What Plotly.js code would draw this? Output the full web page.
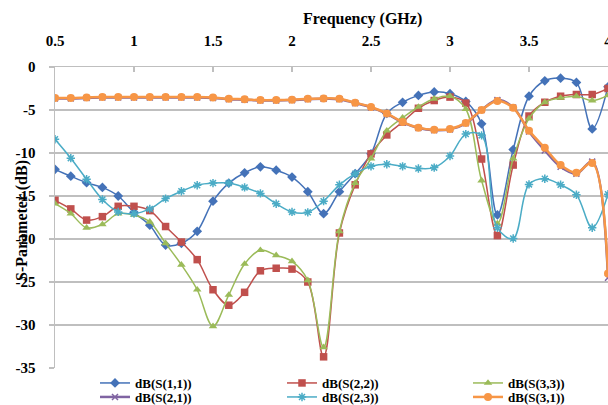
<!DOCTYPE html>
<html>
<head>
<meta charset="utf-8">
<script src="https://cdn.plot.ly/plotly-3.0.1.min.js"></script>
<style>html,body{margin:0;padding:0;background:#fff;}#chart{width:608px;height:405px;}</style>
</head>
<body>
<div id="chart"></div>
<script>
var freq = [0.5,0.6,0.7,0.8,0.9,1.0,1.1,1.2,1.3,1.4,1.5,1.6,1.7,1.8,1.9,2.0,2.1,2.2,2.3,2.4,2.5,2.6,2.7,2.8,2.9,3.0,3.1,3.2,3.3,3.4,3.5,3.6,3.7,3.8,3.9,4.0];
var s11 = [-11.9,-12.7,-13.45,-14.0,-15.0,-16.9,-18.4,-20.7,-20.5,-19.1,-15.6,-13.5,-12.3,-11.6,-12.0,-12.8,-14.5,-17.05,-14.5,-12.4,-10.1,-5.4,-4.1,-3.3,-2.9,-3.1,-4.0,-6.6,-17.2,-9.6,-3.4,-1.6,-1.3,-1.8,-7.2,-2.3];
var s22 = [-15.5,-16.5,-17.8,-17.4,-16.2,-16.2,-16.7,-18.55,-20.35,-22.4,-25.9,-27.7,-26.2,-23.7,-23.4,-23.5,-25.0,-33.7,-19.3,-13.7,-10.1,-7.9,-6.4,-4.8,-3.9,-3.5,-4.2,-10.7,-19.6,-11.4,-5.7,-4.1,-3.4,-3.2,-3.2,-2.5];
var s33 = [-15.9,-17.05,-18.7,-18.3,-17.05,-17.2,-18.0,-20.5,-23.0,-25.9,-30.15,-26.5,-22.9,-21.3,-21.9,-22.6,-24.8,-32.6,-19.1,-13.5,-10.65,-7.4,-5.9,-4.65,-3.7,-3.4,-4.9,-13.2,-18.2,-10.65,-6.0,-4.1,-3.6,-3.4,-3.9,-3.3];
var s21 = [-3.65,-3.65,-3.6,-3.55,-3.55,-3.55,-3.55,-3.55,-3.55,-3.55,-3.6,-3.75,-3.8,-3.9,-3.9,-3.85,-3.75,-3.7,-3.75,-4.2,-4.7,-5.45,-6.45,-7.1,-7.35,-7.25,-6.55,-5.0,-3.85,-4.7,-7.5,-9.7,-11.6,-12.4,-11.0,-24.5];
var s23 = [-8.4,-10.6,-13.05,-15.4,-16.85,-17.05,-16.5,-15.3,-14.45,-13.75,-13.5,-13.5,-14.0,-14.7,-15.9,-16.85,-16.9,-15.6,-13.7,-12.4,-11.55,-11.3,-11.55,-11.8,-11.7,-10.35,-7.8,-7.95,-18.7,-19.95,-13.65,-13.0,-13.7,-14.85,-18.7,-14.8];
var s31 = [-3.6,-3.6,-3.55,-3.5,-3.5,-3.5,-3.5,-3.5,-3.5,-3.5,-3.55,-3.7,-3.75,-3.85,-3.85,-3.8,-3.7,-3.65,-3.7,-4.15,-4.65,-5.4,-6.4,-7.05,-7.3,-7.2,-6.5,-5.0,-3.95,-4.75,-7.4,-9.4,-11.4,-12.3,-11.15,-24.0];
var seriesNames = ['dB(S(1,1))','dB(S(2,2))','dB(S(3,3))','dB(S(2,1))','dB(S(2,3))','dB(S(3,1))'];
var xTickVals = [0.5,1,1.5,2,2.5,3,3.5,4];
var xTickText = ['0.5','1','1.5','2','2.5','3','3.5','4'];
var yTickVals = [0,-5,-10,-15,-20,-25,-30,-35];
var yTickText = ['0','-5','-10','-15','-20','-25','-30','-35'];
var xTitle = 'Frequency (GHz)';
var yTitle = 'S-Parameter (dB)';

var legendIds = ['legend','legend2','legend3','legend4','legend5','legend6'];
function tr(y, i, color, sym, size, lw, mlw) {
  return {
    x: freq, y: y, name: seriesNames[i], type: 'scatter', mode: 'lines+markers',
    line: {color: color, width: lw, shape: 'spline', smoothing: 1},
    marker: {symbol: sym, size: size, color: color, line: {color: color, width: mlw || 0}},
    legend: legendIds[i]
  };
}
var data = [
  tr(s11, 0, '#4472B8', 'diamond', 7.5, 1.5),
  tr(s22, 1, '#C0504D', 'square', 7.5, 1.5),
  tr(s33, 2, '#9BBB59', 'triangle-up', 7.5, 1.5),
  tr(s21, 3, '#8064A2', 'x-thin-open', 6, 2.5, 1.5),
  tr(s23, 4, '#4BACC6', 'asterisk-open', 7, 1.5, 1.5),
  tr(s31, 5, '#F79646', 'circle', 8, 2.5)
];
var serif = 'Liberation Serif, Times New Roman, serif';
function legendCfg(px, py) {
  return {
    orientation: 'h', xref: 'container', yref: 'container',
    x: px/608, y: 1 - py/405, xanchor: 'left', yanchor: 'middle',
    itemwidth: 30,
    font: {family: serif, size: 13, weight: 'bold', color: '#000'},
    bgcolor: 'rgba(0,0,0,0)', borderwidth: 0
  };
}
var colX = [95, 282, 468];
var rowY = [383, 397];
var layout = {
  width: 608, height: 405,
  margin: {l: 55, r: 0, t: 67, b: 37, pad: 0},
  paper_bgcolor: '#fff', plot_bgcolor: '#fff',
  showlegend: true,
  xaxis: {
    range: [0.5, 4.0], side: 'top', tickmode: 'array', tickvals: xTickVals, ticktext: xTickText,
    showgrid: false, zeroline: false, showline: true, linecolor: '#BFBFBF', linewidth: 1.5,
    ticks: 'inside', ticklen: 5, tickcolor: '#BFBFBF', tickwidth: 1.5, ticklabelstandoff: 14,
    ticklabeloverflow: 'allow',
    tickfont: {family: serif, size: 15, weight: 'bold', color: '#000'}
  },
  yaxis: {
    range: [-35, 0], tickmode: 'array', tickvals: yTickVals, ticktext: yTickText,
    showgrid: true, gridcolor: '#BFBFBF', gridwidth: 1.5, zeroline: false,
    showline: true, linecolor: '#BFBFBF', linewidth: 1.5,
    ticks: 'outside', ticklen: 5, tickcolor: '#BFBFBF', tickwidth: 1.5, ticklabelstandoff: 10,
    tickfont: {family: serif, size: 15, weight: 'bold', color: '#000'}
  },
  legend: legendCfg(colX[0], rowY[0]),
  legend2: legendCfg(colX[1], rowY[0]),
  legend3: legendCfg(colX[2], rowY[0]),
  legend4: legendCfg(colX[0], rowY[1]),
  legend5: legendCfg(colX[1], rowY[1]),
  legend6: legendCfg(colX[2], rowY[1]),
  annotations: [
    {text: xTitle, xref: 'paper', yref: 'paper', x: (362-55)/553, y: 1 + (67-19)/301,
     xanchor: 'center', yanchor: 'middle', showarrow: false,
     font: {family: serif, size: 16, weight: 'bold', color: '#000'}},
    {text: yTitle, xref: 'paper', yref: 'paper', x: (21.5-55)/553, y: 0.49, textangle: -90,
     xanchor: 'center', yanchor: 'middle', showarrow: false,
     font: {family: serif, size: 16, weight: 'bold', color: '#000'}}
  ]
};
Plotly.newPlot('chart', data, layout, {staticPlot: true, displayModeBar: false});
</script>
</body>
</html>
